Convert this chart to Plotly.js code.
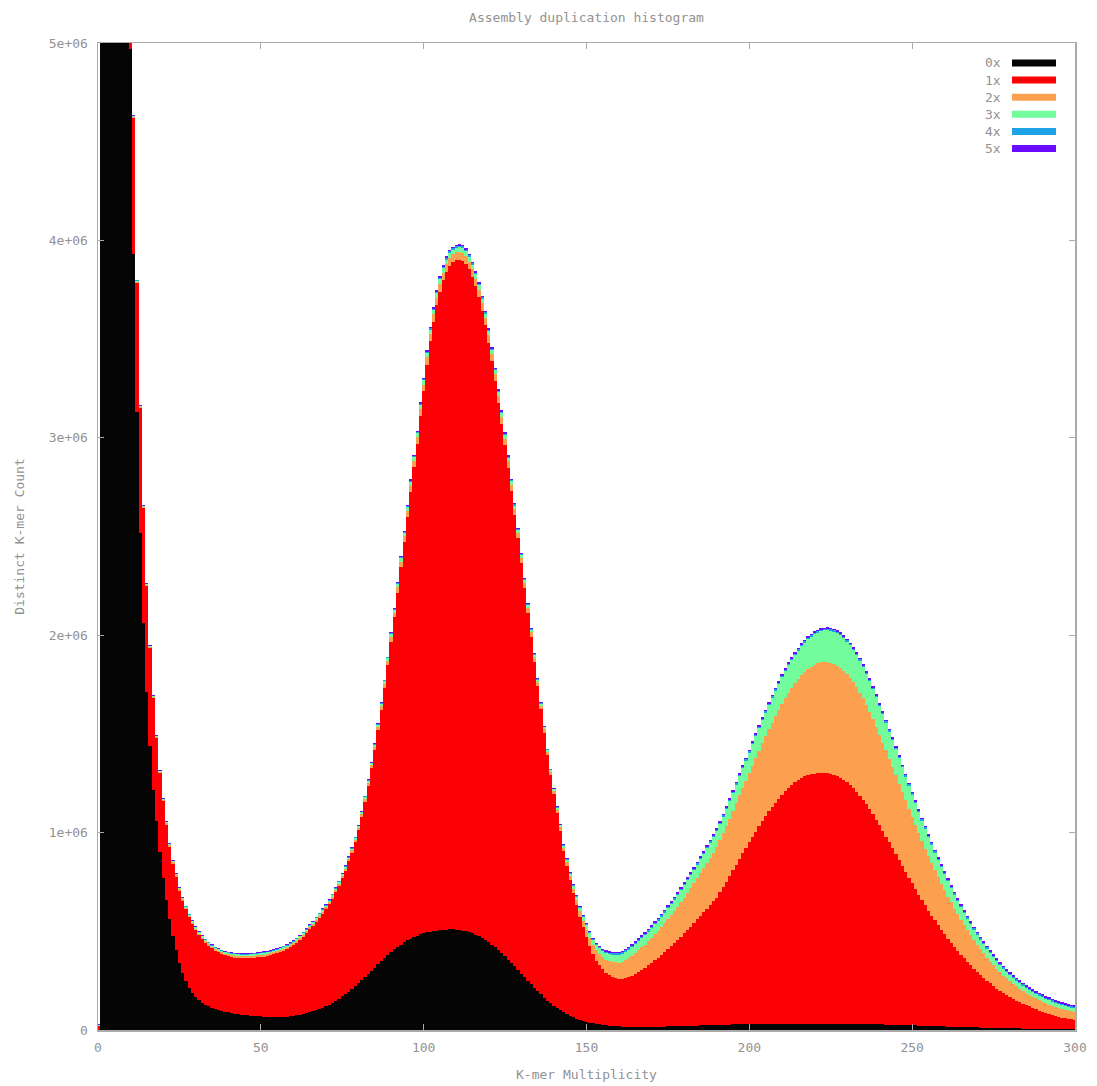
<!DOCTYPE html>
<html><head><meta charset="utf-8">
<script src="https://cdn.plot.ly/plotly-3.0.1.min.js"></script>
<style>html,body{margin:0;padding:0;background:#fff}</style>
</head><body><div id="chart" style="width:1097px;height:1086px"></div>
<script>
// Distinct k-mer counts (in thousands) per multiplicity 0..300, one array per copy-number layer
const seriesNames = ['0x','1x','2x','3x','4x','5x'];
const seriesColors = ['#050505','#fc0006','#fca04f','#72fc9b','#1ea3e6','#6a0cff'];
const xTicks = [0,50,100,150,200,250,300];
const yTicks = [0,1e6,2e6,3e6,4e6,5e6];
const yTickText = ['0','1e+06','2e+06','3e+06','4e+06','5e+06'];

const k0 = [0,
60000,42000,30000,21000,15000,11000,8500,6800,5700,4970,
3930,3130,2520,2060,1710,1440,1216,1060,900,770,
660,560,475,405,340,290,248,214,188,167,
150,138,128,120,113,107,102,97,93,89,
86,83,80,78,76,74,72,71,70,69,
68,67,67,66,66,66,67,68,70,72,
75,78,81,85,89,94,100,106,113,120,
128,137,147,158,170,182,195,209,223,238,
253,268,284,300,316,332,348,364,379,394,
408,421,433,444,454,463,471,478,484,490,
494,498,501,504,506,508,509,510,510,509,
507,504,500,495,489,482,474,465,455,444,
432,419,405,390,374,357,340,322,304,286,
268,250,232,214,197,180,164,149,135,122,
110,99,89,80,72,65,58,52,47,42,
38,34,31,28,26,24,22,20,19,18,
17,16,16,15,15,15,15,15,15,16,
16,16,17,17,18,18,19,19,20,20,
21,21,22,22,23,23,24,24,25,25,
26,26,27,27,28,28,29,29,30,30,
30,31,31,31,31,32,32,32,32,32,
32,32,32,32,32,32,32,32,32,32,
32,32,32,32,32,32,31,31,31,31,
31,30,30,30,30,29,29,29,28,28,
28,27,27,26,26,25,25,24,24,23,
23,22,22,21,20,20,19,19,18,18,
17,17,16,16,15,15,14,14,13,13,
12,12,11,11,10,10,10,9,9,9,
8,8,8,7,7,7,6,6,6,6,
5,5,5,5,4,4,4,4,4,4];

const k1 = [20,
900,800,700,600,500,400,300,250,200,700,
688,653,629,583,537,493,464,417,400,388,
380,368,367,371,365,365,363,357,349,340,
330,321,313,306,300,295,291,288,286,286,
283,284,286,287,289,291,294,296,299,302,
304,308,312,318,323,329,335,342,349,358,
367,378,391,405,421,433,449,463,477,492,
510,528,551,573,600,626,660,690,730,773,
828,889,954,1025,1103,1186,1274,1370,1470,1573,
1682,1795,1913,2028,2146,2264,2381,2492,2627,2745,
2877,2991,3088,3167,3234,3289,3331,3362,3379,3390,
3395,3394,3380,3358,3325,3285,3237,3178,3114,3038,
2956,2867,2772,2682,2590,2492,2392,2289,2187,2080,
1972,1864,1760,1652,1546,1444,1342,1242,1157,1073,
990,911,816,751,687,627,574,522,473,430,
386,350,321,299,281,266,256,249,244,239,
241,246,252,260,269,279,290,301,313,325,
338,351,364,378,392,407,422,437,453,471,
486,503,520,538,555,573,590,609,627,646,
671,697,724,752,781,810,839,866,893,920,
948,974,1001,1027,1052,1075,1098,1120,1140,1159,
1178,1196,1211,1225,1235,1246,1255,1262,1266,1267,
1271,1272,1271,1268,1264,1261,1255,1246,1237,1224,
1210,1196,1177,1157,1137,1114,1089,1063,1037,1008,
980,953,924,895,866,836,806,777,748,720,
691,663,636,610,584,559,536,512,489,467,
446,425,405,385,367,349,331,314,298,282,
268,253,239,225,213,200,189,178,168,158,
150,141,133,127,120,113,106,99,92,86,
81,76,71,67,63,59,56,53,50,48];

const k2 = [2,
40,30,25,20,16,13,11,10,9,8,
6,6,6,6,6,6,6,6,6,6,
7,7,7,7,7,7,7,7,7,7,
8,8,8,8,8,8,8,8,8,8,
9,9,9,9,9,9,9,9,9,9,
10,10,10,10,10,10,10,10,10,10,
10,10,10,10,10,10,10,10,10,10,
10,10,10,10,10,10,10,11,11,12,
13,14,15,16,17,18,20,21,22,23,
25,26,27,29,30,31,32,33,34,35,
36,37,37,38,39,39,39,40,40,40,
40,40,40,39,39,39,38,38,37,37,
36,35,34,33,32,31,30,29,27,26,
25,24,22,21,20,18,17,16,15,15,
15,16,17,18,20,22,25,28,32,36,
41,46,51,56,61,66,71,76,80,84,
88,92,96,101,105,109,113,117,121,125,
130,135,140,145,150,156,162,168,174,180,
187,194,201,208,215,223,231,239,247,255,
264,273,282,291,300,310,320,330,340,350,
361,372,383,394,405,416,427,438,449,460,
470,480,490,500,510,518,526,534,542,550,
554,558,562,565,563,562,560,557,553,548,
543,537,530,522,513,505,494,483,472,460,
448,436,424,412,399,386,374,362,349,336,
324,312,300,288,278,266,255,244,234,223,
213,204,194,185,176,168,160,151,144,136,
129,123,117,110,105,99,94,89,84,79,
76,72,68,65,62,59,57,55,53,51,
50,48,47,46,45,44,42,42,41,40];

const k3 = [2,
20,16,13,11,9,8,7,6,6,5,
5,5,5,5,5,5,5,5,5,5,
6,6,6,6,6,6,6,6,6,6,
7,7,7,7,7,7,7,7,7,7,
8,8,8,8,8,8,8,8,8,8,
8,8,8,8,8,8,8,8,8,8,
8,8,8,8,8,8,8,8,8,8,
8,8,8,8,8,8,8,8,8,8,
8,8,9,10,10,11,12,12,13,14,
15,16,16,17,18,19,19,20,21,21,
22,22,22,23,23,23,24,24,24,24,
24,24,24,24,24,23,23,23,22,22,
21,21,20,20,19,19,18,17,16,16,
15,14,13,13,12,11,10,10,9,9,
10,10,11,12,13,14,16,18,20,22,
24,26,28,30,32,34,36,37,38,40,
41,42,43,44,45,46,47,48,49,50,
51,52,53,55,56,57,58,60,61,62,
64,66,67,69,71,73,75,76,78,80,
82,85,87,90,92,95,97,100,102,105,
108,111,114,117,120,123,126,129,132,135,
137,139,141,143,145,147,149,151,153,155,
156,158,159,160,164,163,164,165,164,165,
164,162,162,161,158,155,154,152,148,145,
143,140,137,134,131,129,125,121,117,114,
110,107,103,100,96,93,89,86,83,80,
77,73,71,68,65,61,59,57,54,52,
49,46,44,43,40,39,36,35,33,32,
29,28,27,25,24,23,23,22,22,22,
21,21,20,19,19,19,19,18,18,18];

const k4 = [2,
10,8,7,6,5,4,4,3,3,3,
3,3,3,3,3,3,3,3,3,3,
3,3,3,3,3,3,3,3,3,3,
3,3,3,3,3,3,3,3,3,3,
4,4,4,4,4,4,4,4,4,4,
4,4,4,4,4,4,4,4,4,4,
4,4,4,4,4,4,4,4,4,4,
4,4,4,4,4,4,4,4,4,4,
4,4,4,4,4,4,4,4,4,5,
5,5,5,6,6,6,6,7,7,7,
7,7,7,8,8,8,8,8,8,8,
8,8,8,8,8,8,8,8,7,7,
7,7,7,7,6,6,6,6,5,5,
5,5,4,4,4,4,4,4,4,4,
4,4,4,5,5,5,5,5,5,6,
6,6,6,6,6,7,7,7,7,7,
7,7,7,7,7,7,7,7,7,7,
7,7,7,7,7,7,7,7,7,7,
7,7,7,7,7,7,7,7,7,7,
7,7,7,7,7,7,7,7,7,7,
7,7,7,7,7,7,7,7,7,7,
7,7,7,7,7,7,7,7,7,7,
7,7,7,7,7,7,7,7,7,7,
7,7,7,7,7,7,7,7,7,7,
7,7,7,7,7,7,7,7,7,7,
7,7,7,7,7,7,7,7,7,7,
7,7,7,7,7,7,7,7,7,7,
7,7,7,7,7,7,7,7,7,7,
7,7,7,7,7,7,7,7,7,7,
7,7,7,7,7,7,7,7,7,7];

const k5 = [2,
10,8,7,6,5,4,4,3,3,3,
3,3,3,3,3,3,3,3,3,3,
3,3,3,3,3,3,3,3,3,3,
3,3,3,3,3,3,3,3,3,3,
3,3,3,3,3,3,3,3,3,3,
4,4,4,4,4,4,4,4,4,4,
4,4,4,4,4,4,4,4,4,4,
4,4,4,4,4,4,4,4,4,4,
4,4,4,4,4,4,4,4,4,5,
5,5,5,6,6,6,6,7,7,7,
7,7,7,8,8,8,8,8,8,8,
8,8,8,8,8,8,8,8,7,7,
7,7,7,7,6,6,6,6,5,5,
5,5,4,4,4,4,4,4,4,4,
4,4,4,5,5,5,5,5,5,6,
6,6,6,6,6,7,7,7,7,7,
8,8,8,8,8,8,8,8,8,8,
8,8,8,8,8,8,8,8,8,8,
8,8,8,8,8,8,8,8,8,8,
8,8,8,8,8,8,8,8,8,8,
8,8,8,8,8,8,8,8,8,8,
8,8,8,8,8,8,8,8,8,8,
8,8,8,8,8,8,8,8,8,8,
8,8,8,8,8,8,8,8,8,8,
8,8,8,8,8,8,8,8,8,8,
8,8,8,8,8,8,8,8,8,8,
8,8,8,8,8,8,8,8,8,8,
8,8,8,8,8,8,8,8,8,8,
8,8,8,8,8,8,8,8,8,8,
8,8,8,8,8,8,8,8,8,8];

const layers = [k0,k1,k2,k3,k4,k5];
const multiplicity = k0.map((_, i) => i);
const grey = '#929292';
const fam = 'DejaVu Sans Mono, monospace';

const traces = layers.map((vals, i) => ({
  type: 'bar',
  x: multiplicity,
  y: vals.map(v => v * 1000),
  width: 1,
  name: seriesNames[i],
  marker: {color: seriesColors[i], line: {width: 0}},
  showlegend: false
}));

// manual legend (label then colour sample, as in the original)
const plotL = 98, plotR = 1075, plotT = 43, plotB = 1030;
const px2x = p => (p - plotL) / (plotR - plotL);
const px2y = p => (plotB - p) / (plotB - plotT);
const annotations = [], shapes = [];
seriesNames.forEach((n, i) => {
  const cy = 63 + i * 17.1;
  annotations.push({xref:'paper', yref:'paper', x: px2x(1003), y: px2y(cy), xanchor:'right', yanchor:'middle',
    text: n, showarrow:false, font:{family:fam, size:13, color:grey}});
  shapes.push({type:'rect', xref:'paper', yref:'paper', x0: px2x(1012), x1: px2x(1056),
    y0: px2y(cy + 3.5), y1: px2y(cy - 3.5), fillcolor: seriesColors[i], line:{width:0}});
});

const layout = {
  width: 1097, height: 1086,
  margin: {l: 98, r: 22, t: 43, b: 56},
  barmode: 'stack', bargap: 0,
  paper_bgcolor: '#ffffff', plot_bgcolor: '#ffffff',
  font: {family: fam, size: 13, color: grey},
  title: {text: 'Assembly duplication histogram', xref: 'paper', x: 0.5, yref: 'container', y: 1 - 17/1086,
          yanchor: 'middle', font: {family: fam, size: 13, color: grey}},
  xaxis: {range: [0, 300], tickvals: xTicks, ticks: 'inside', ticklen: 6, tickcolor: '#aaaaaa',
          showline: true, linecolor: '#aaaaaa', linewidth: 1.5, mirror: 'ticks',
          showgrid: false, zeroline: false, tickfont: {family: fam, size: 13, color: grey},
          ticklabelstandoff: 5,
          title: {text: 'K-mer Multiplicity', standoff: 16, font: {family: fam, size: 13, color: grey}}},
  yaxis: {range: [0, 5e6], tickvals: yTicks, ticktext: yTickText, ticks: 'inside', ticklen: 6, tickcolor: '#aaaaaa',
          showline: true, linecolor: '#aaaaaa', linewidth: 1.5, mirror: 'ticks',
          showgrid: false, zeroline: false, tickfont: {family: fam, size: 13, color: grey},
          ticklabelstandoff: 6,
          title: {text: 'Distinct K-mer Count', standoff: 21, font: {family: fam, size: 13, color: grey}}},
  annotations: annotations,
  shapes: shapes
};

Plotly.newPlot('chart', traces, layout, {displayModeBar: false, staticPlot: true});
</script>
</body></html>
